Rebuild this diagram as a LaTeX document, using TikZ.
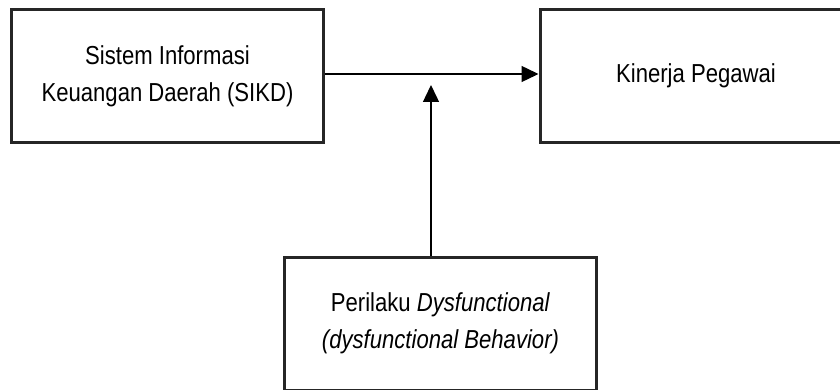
\documentclass[tikz,border=0pt]{standalone}
\usepackage{fontspec}
\setmainfont[FakeStretch=0.85]{Liberation Sans}
\usetikzlibrary{arrows.meta}

\tikzset{
  varbox/.style={draw=black!85, line width=3pt, minimum width=312pt, minimum height=133pt,
                 align=center, font=\fontsize{26}{37}\selectfont},
  link/.style={line width=1.4pt, -{Triangle[length=17pt, width=16pt]}}
}

\begin{document}
\begin{tikzpicture}[x=1pt, y=-1pt]
  \useasboundingbox (0,0) rectangle (840,390);

  % Variables
  \node[varbox] (sikd) at (167.5,76) {Sistem Informasi\\Keuangan Daerah (SIKD)};
  \node[varbox] (kinerja) at (696,76) {Kinerja Pegawai};
  \node[varbox] (perilaku) at (440.5,323.5) {Perilaku \textit{Dysfunctional}\\\textit{(dysfunctional Behavior)}};

  % Effects
  \coordinate (moderasi) at (431,85);
  \draw[link] (sikd.east |- 0,74) -- (kinerja.west |- 0,74);
  \draw[link] (perilaku.north -| moderasi) -- (moderasi);
\end{tikzpicture}
\end{document}
